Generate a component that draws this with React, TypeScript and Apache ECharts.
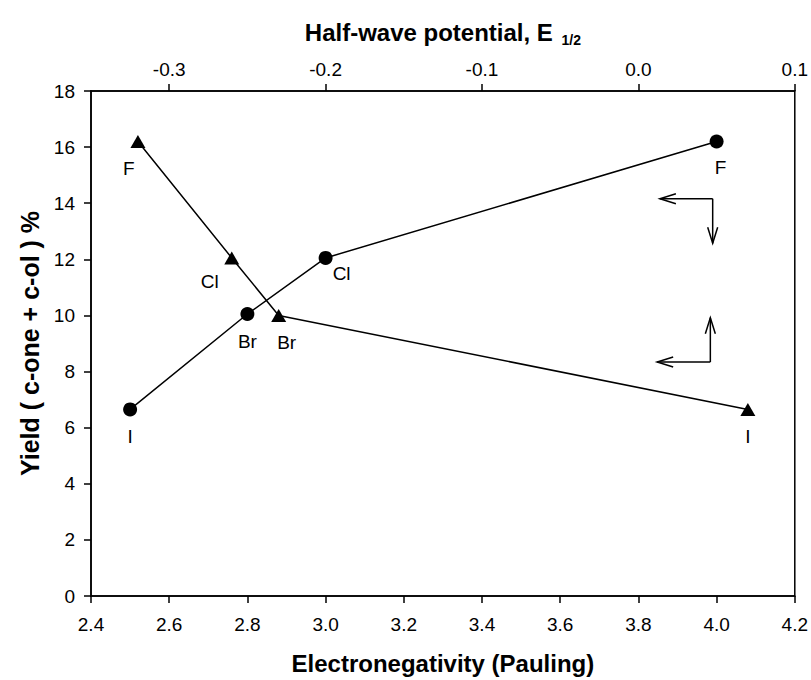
import React, { useEffect, useRef } from "react";
import * as echarts from "echarts";

// Circles: yield vs electronegativity (bottom axis)
const circleNames = ["I", "Br", "Cl", "F"];
const electronegativity = [2.5, 2.8, 3.0, 4.0];
const circleYield = [6.65, 10.05, 12.05, 16.2];

// Triangles: yield vs half-wave potential (top axis)
const triangleNames = ["F", "Cl", "Br", "I"];
const halfWave = [-0.32, -0.26, -0.23, 0.07];
const triangleYield = [16.2, 12.05, 10.0, 6.65];

// Arrow segments in bottom-axis coordinates [x1, y1, x2, y2]
const arrows = [
  [3.99, 14.16, 3.855, 14.16],
  [3.99, 14.16, 3.99, 12.57],
  [3.984, 8.34, 3.848, 8.34],
  [3.984, 8.34, 3.984, 9.92],
];

const topTicks = [-0.3, -0.2, -0.1, 0.0, 0.1];

const FONT = "Liberation Sans";

const circleLabelOffset: Record<string, [number, number]> = {
  I: [0, 0],
  Br: [0, 0],
  Cl: [16, -12],
  F: [4, -2],
};
const triangleLabelOffset: Record<string, [number, number]> = {
  F: [-9, 0],
  Cl: [-22, -3],
  Br: [8, 0],
  I: [0, 0],
};

export default function App() {
  const ref = useRef<HTMLDivElement>(null);
  useEffect(() => {
    if (!ref.current) return;
    const chart = echarts.init(ref.current, null, { renderer: "svg" });
    const tickLabel = { color: "#000", fontFamily: FONT, fontSize: 19 };
    const nameStyle = { color: "#000", fontFamily: FONT, fontSize: 24, fontWeight: "bold" as const };
    chart.setOption({
      animation: false,
      backgroundColor: "#fff",
      grid: {
        left: 91,
        right: 14,
        top: 91,
        bottom: 82,
        show: true,
        borderColor: "#000",
        borderWidth: 1.5,
      },
      xAxis: [
        {
          type: "value",
          min: 2.4,
          max: 4.2,
          interval: 0.2,
          position: "bottom",
          splitLine: { show: false },
          axisLine: { show: true, onZero: false, lineStyle: { color: "#000", width: 1.5 } },
          axisTick: { show: true, length: 7, lineStyle: { color: "#000", width: 1.5 } },
          axisLabel: { ...tickLabel, margin: 19, formatter: (v: number) => v.toFixed(1) },
          name: "Electronegativity (Pauling)",
          nameLocation: "middle",
          nameGap: 55,
          nameTextStyle: nameStyle,
        },
        {
          type: "value",
          min: -0.35,
          max: 0.1,
          position: "top",
          splitLine: { show: false },
          axisLine: { show: true, onZero: false, lineStyle: { color: "#000", width: 1.5 } },
          axisTick: { show: true, length: 7, customValues: topTicks, lineStyle: { color: "#000", width: 1.5 } },
          axisLabel: {
            ...tickLabel,
            margin: 12,
            customValues: topTicks,
            formatter: (v: number) => v.toFixed(1),
          },
          name: "{a|Half-wave potential, E }{s|1/2}",
          nameLocation: "middle",
          nameGap: 44,
          nameTextStyle: {
            ...nameStyle,
            rich: {
              a: { fontFamily: FONT, fontSize: 24, fontWeight: "bold", color: "#000" },
              s: {
                fontFamily: FONT,
                fontSize: 14,
                fontWeight: "bold",
                color: "#000",
                padding: [16, 0, 0, 2],
              },
            },
          },
        },
      ],
      yAxis: {
        type: "value",
        min: 0,
        max: 18,
        interval: 2,
        splitLine: { show: false },
        axisLine: { show: true, onZero: false, lineStyle: { color: "#000", width: 1.5 } },
        axisTick: { show: true, length: 7, lineStyle: { color: "#000", width: 1.5 } },
        axisLabel: { ...tickLabel, margin: 16 },
        name: "Yield ( c-one + c-ol ) %",
        nameLocation: "middle",
        nameRotate: 90,
        nameGap: 48,
        nameTextStyle: { ...nameStyle, fontSize: 25 },
      },
      series: [
        {
          type: "line",
          xAxisIndex: 0,
          symbol: "circle",
          symbolSize: 14,
          itemStyle: { color: "#000" },
          lineStyle: { color: "#000", width: 1.5 },
          data: electronegativity.map((x, i) => ({
            value: [x, circleYield[i]],
            name: circleNames[i],
            label: {
              show: true,
              position: "bottom",
              distance: 11,
              offset: circleLabelOffset[circleNames[i]],
              formatter: circleNames[i],
              color: "#000",
              fontFamily: FONT,
              fontSize: 19,
            },
          })),
        },
        {
          type: "line",
          xAxisIndex: 1,
          symbol: "triangle",
          symbolSize: [15, 13],
          itemStyle: { color: "#000" },
          lineStyle: { color: "#000", width: 1.5 },
          data: halfWave.map((x, i) => ({
            value: [x, triangleYield[i]],
            name: triangleNames[i],
            label: {
              show: true,
              position: "bottom",
              distance: 11,
              offset: triangleLabelOffset[triangleNames[i]],
              formatter: triangleNames[i],
              color: "#000",
              fontFamily: FONT,
              fontSize: 19,
            },
          })),
        },
        {
          type: "custom",
          xAxisIndex: 0,
          silent: true,
          data: arrows,
          renderItem: (params: any, api: any) => {
            const p1 = api.coord([api.value(0), api.value(1)]);
            const p2 = api.coord([api.value(2), api.value(3)]);
            const dx = p2[0] - p1[0];
            const dy = p2[1] - p1[1];
            const len = Math.sqrt(dx * dx + dy * dy) || 1;
            const ux = dx / len;
            const uy = dy / len;
            const hl = 16;
            const hw = 5;
            const bx = p2[0] - ux * hl;
            const by = p2[1] - uy * hl;
            return {
              type: "group",
              children: [
                {
                  type: "line",
                  shape: { x1: p1[0], y1: p1[1], x2: p2[0], y2: p2[1] },
                  style: { stroke: "#000", lineWidth: 1.5 },
                },
                {
                  type: "polyline",
                  shape: {
                    points: [
                      [bx - uy * hw, by + ux * hw],
                      [p2[0], p2[1]],
                      [bx + uy * hw, by - ux * hw],
                    ],
                  },
                  style: { stroke: "#000", lineWidth: 1.5, fill: "none" },
                },
              ],
            };
          },
        },
      ],
    });
    return () => chart.dispose();
  }, []);
  return (
    <div
      ref={ref}
      style={{ position: "absolute", left: 0, top: 0, width: 811, height: 680 }}
    />
  );
}
